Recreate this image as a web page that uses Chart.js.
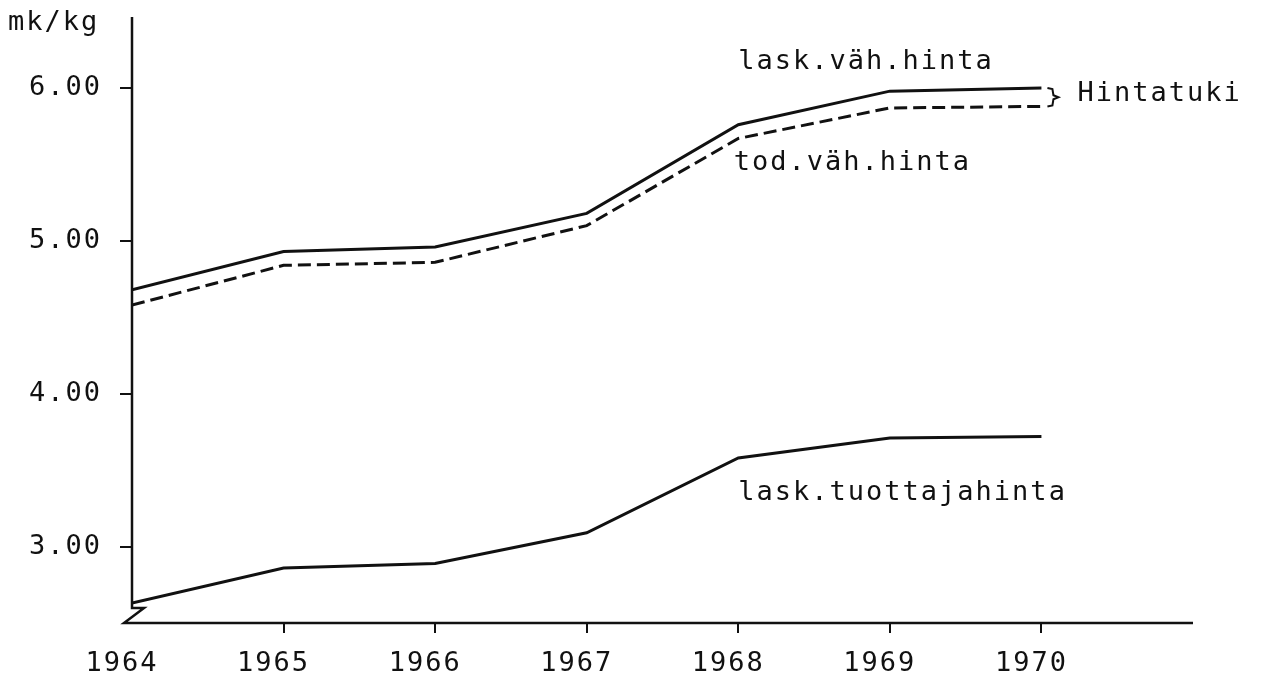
<!DOCTYPE html>
<html>
<head>
<meta charset="utf-8">
<script src="https://cdn.jsdelivr.net/npm/chart.js@4"></script>
<style>
  body { margin: 0; background: #fff; }
</style>
</head>
<body>
<canvas id="priceChart" width="1270" height="679"></canvas>
<script>
// years on the x axis
const years = [1964, 1965, 1966, 1967, 1968, 1969, 1970];
// prices, mk/kg
const laskVahHinta = [4.68, 4.93, 4.96, 5.18, 5.76, 5.98, 6.00];
const todVahHinta = [4.58, 4.84, 4.86, 5.10, 5.67, 5.87, 5.88];
const laskTuottajahinta = [2.63, 2.86, 2.89, 3.09, 3.58, 3.71, 3.72];
const yTicks = [3, 4, 5, 6];

const ink = '#111';
const font = '"DejaVu Sans Mono", monospace';
const spacing = '2px';

function pts(values) {
    return years.map((yr, i) => ({ x: yr, y: values[i] }));
}

const annotations = {
    id: 'annotations',
    beforeDraw(chart) {
        chart.ctx.letterSpacing = spacing;
    },
    afterDraw(chart) {
        const ctx = chart.ctx;
        const a = chart.chartArea;
        const x = chart.scales.x;
        const y = chart.scales.y;
        ctx.save();
        ctx.strokeStyle = ink;
        ctx.lineWidth = 2.5;
        ctx.lineJoin = 'miter';

        // axes with the break mark at the bottom left
        ctx.beginPath();
        ctx.moveTo(a.left, a.top);
        ctx.lineTo(a.left, a.bottom - 15);
        ctx.lineTo(a.left + 12, a.bottom - 15);
        ctx.lineTo(a.left - 8, a.bottom);
        ctx.lineTo(a.right, a.bottom);
        ctx.stroke();

        // brace between the two top lines at 1970
        const bx = x.getPixelForValue(1970) + 6;
        const top = y.getPixelForValue(laskVahHinta[6]);
        const bot = y.getPixelForValue(todVahHinta[6]);
        const mid = (top + bot) / 2;
        ctx.lineWidth = 2;
        ctx.beginPath();
        ctx.moveTo(bx, top);
        ctx.lineTo(bx + 5, top + 1);
        ctx.lineTo(bx + 6, mid - 2);
        ctx.lineTo(bx + 11, mid);
        ctx.lineTo(bx + 6, mid + 2);
        ctx.lineTo(bx + 5, bot - 1);
        ctx.lineTo(bx, bot);
        ctx.stroke();

        ctx.fillStyle = ink;
        ctx.font = '27px ' + font;
        ctx.letterSpacing = spacing;
        ctx.textAlign = 'left';
        ctx.textBaseline = 'middle';
        ctx.fillText('Hintatuki', bx + 30, mid - 3);
        ctx.fillText('lask.väh.hinta', x.getPixelForValue(1968), y.getPixelForValue(6.17));
        ctx.fillText('tod.väh.hinta', x.getPixelForValue(1967.97), y.getPixelForValue(5.51));
        ctx.fillText('lask.tuottajahinta', x.getPixelForValue(1968), y.getPixelForValue(3.35));
        ctx.textBaseline = 'alphabetic';
        ctx.fillText('mk/kg', 8, 30);
        ctx.restore();
    }
};

const lineStyle = {
    borderColor: ink,
    borderWidth: 3,
    pointRadius: 0,
    tension: 0,
    fill: false
};

window.onload = function() {
    const ctx = document.getElementById('priceChart').getContext('2d');
    new Chart(ctx, {
        type: 'line',
        data: {
            datasets: [
                Object.assign({ label: 'lask.väh.hinta', data: pts(laskVahHinta) }, lineStyle),
                Object.assign({ label: 'tod.väh.hinta', data: pts(todVahHinta), borderDash: [13, 6] }, lineStyle),
                Object.assign({ label: 'lask.tuottajahinta', data: pts(laskTuottajahinta) }, lineStyle)
            ]
        },
        options: {
            responsive: false,
            animation: false,
            events: [],
            layout: { padding: { top: 17, right: 77, left: 0, bottom: 0 } },
            plugins: {
                legend: { display: false },
                tooltip: { enabled: false }
            },
            scales: {
                x: {
                    type: 'linear',
                    min: 1964,
                    max: 1971,
                    afterFit: s => {
                        s.height = 56;
                        s.paddingLeft = 0;
                        s.paddingRight = 0;
                    },
                    afterBuildTicks: s => { s.ticks = years.map(v => ({ value: v })); },
                    border: { display: false },
                    grid: {
                        drawOnChartArea: false,
                        drawTicks: true,
                        tickLength: 10,
                        lineWidth: 2,
                        tickColor: c => c.index === 0 ? 'rgba(0,0,0,0)' : ink
                    },
                    ticks: {
                        color: ink,
                        font: { family: font, size: 27 },
                        padding: 15,
                        labelOffset: -10,
                        maxRotation: 0,
                        autoSkip: false,
                        callback: v => String(v)
                    }
                },
                y: {
                    min: 2.5,
                    max: 6.465,
                    afterFit: s => {
                        s.width = 132;
                        s.paddingTop = 0;
                        s.paddingBottom = 0;
                    },
                    afterBuildTicks: s => { s.ticks = yTicks.map(v => ({ value: v })); },
                    border: { display: false },
                    grid: {
                        drawOnChartArea: false,
                        drawTicks: true,
                        tickLength: 12,
                        lineWidth: 2,
                        tickColor: ink
                    },
                    ticks: {
                        color: ink,
                        font: { family: font, size: 27 },
                        padding: 18,
                        callback: v => v.toFixed(2)
                    }
                }
            }
        },
        plugins: [annotations]
    });
};
</script>
</body>
</html>
